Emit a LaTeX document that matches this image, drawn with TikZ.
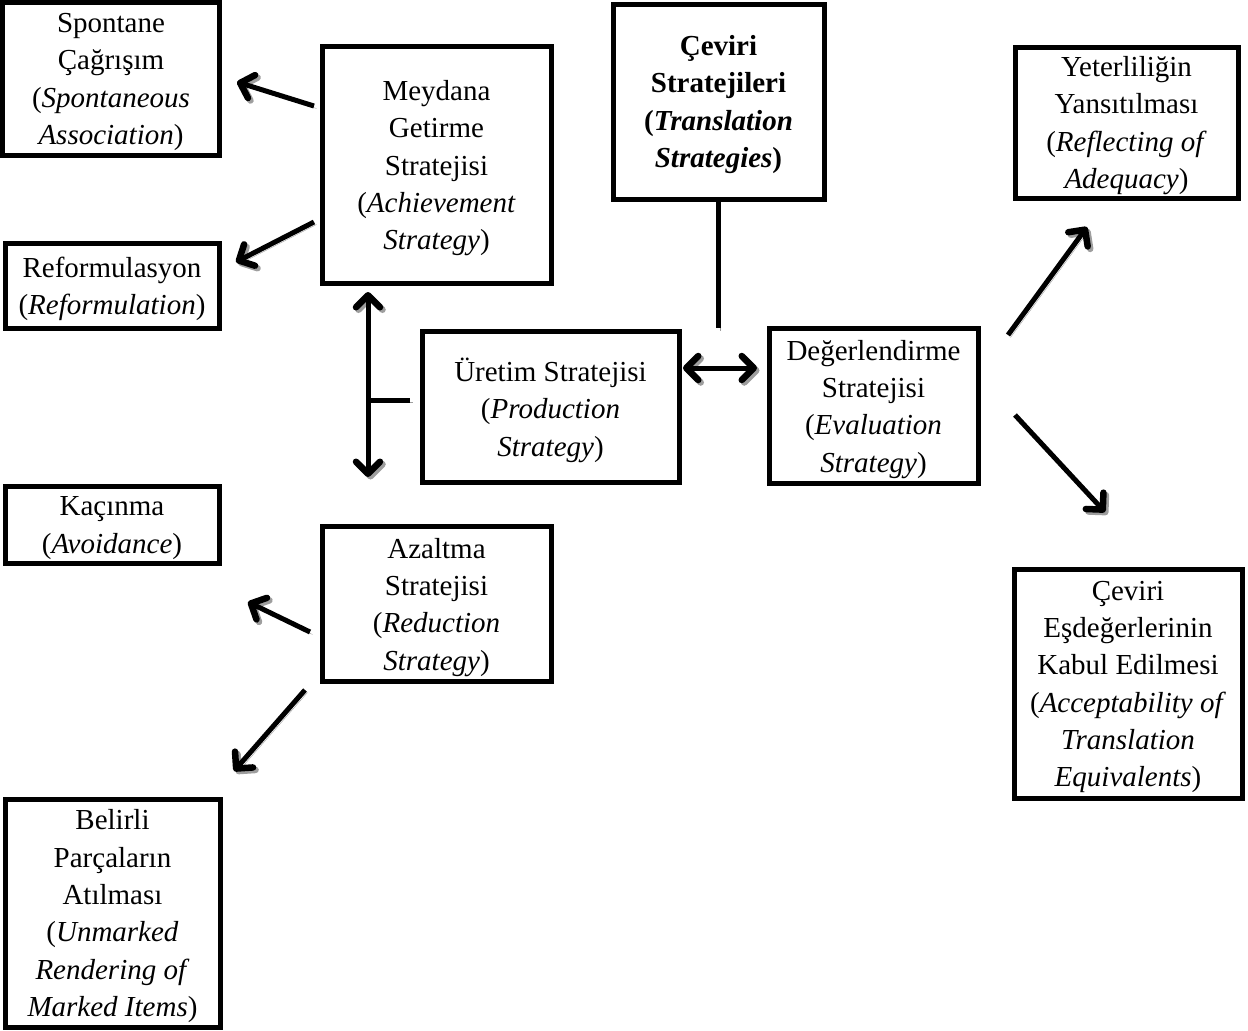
\documentclass[tikz,border=0pt]{standalone}
\usepackage{fontspec}
\setmainfont{Liberation Serif}
\usetikzlibrary{arrows.meta}
\begin{document}
\begin{tikzpicture}[x=1pt,y=-1pt,
  box/.style={draw, line width=5pt, rectangle, align=center, inner sep=0pt,
    text depth=0pt, font=\fontsize{29}{37.3}\selectfont},
  shadowed/.style={preaction={draw=black!38, transform canvas={xshift=2.5pt,yshift=-2.5pt}}},
  barb/.tip={Straight Barb[length=12pt,width=24pt,round,line width=6.5pt]},
  tipend/.style={-barb},
  bothtips/.style={barb-barb},
  conn/.style={line width=5pt, shadowed}
]
\useasboundingbox (0,0) rectangle (1248,1031);

% strategy boxes
\node[box, minimum width=217pt, minimum height=153pt] (sp) at (111,79)
  {Spontane\\Çağrışım\\(\textit{Spontaneous}\\\textit{Association})};
\node[box, minimum width=229pt, minimum height=237pt] (mg) at (436.5,165)
  {Meydana\\Getirme\\Stratejisi\\(\textit{Achievement}\\\textit{Strategy})};
\node[box, minimum width=211pt, minimum height=195pt] (cs) at (718.5,101.5)
  {\textbf{Çeviri}\\\textbf{Stratejileri}\\\textbf{(\textit{Translation}}\\\textbf{\textit{Strategies})}};
\node[box, minimum width=223pt, minimum height=151pt] (yy) at (1126.5,122.5)
  {Yeterliliğin\\Yansıtılması\\(\textit{Reflecting of}\\\textit{Adequacy})};
\node[box, minimum width=214pt, minimum height=85pt] (rf) at (112,286)
  {Reformulasyon\\(\textit{Reformulation})};
\node[box, minimum width=257pt, minimum height=151pt] (ur) at (550.5,407)
  {Üretim Stratejisi\\(\textit{Production}\\\textit{Strategy})};
\node[box, minimum width=209pt, minimum height=155pt] (dg) at (873.5,406)
  {Değerlendirme\\Stratejisi\\(\textit{Evaluation}\\\textit{Strategy})};
\node[box, minimum width=214pt, minimum height=77pt] (kc) at (112,525)
  {Kaçınma\\(\textit{Avoidance})};
\node[box, minimum width=229pt, minimum height=155pt] (az) at (436.5,604)
  {Azaltma\\Stratejisi\\(\textit{Reduction}\\\textit{Strategy})};
\node[box, minimum width=228pt, minimum height=229pt] (ce) at (1128,684)
  {Çeviri\\Eşdeğerlerinin\\Kabul Edilmesi\\(\textit{Acceptability of}\\\textit{Translation}\\\textit{Equivalents})};
\node[box, minimum width=215pt, minimum height=228pt] (bp) at (112.5,913)
  {Belirli\\Parçaların\\Atılması\\(\textit{Unmarked}\\\textit{Rendering of}\\\textit{Marked Items})};

% free ends of the connectors
\coordinate (mgA) at (314,106);  \coordinate (spA) at (237,82);
\coordinate (mgB) at (314,222);  \coordinate (rfB) at (236,262);
\coordinate (vTop) at (368,292); \coordinate (vBot) at (368,477);
\coordinate (vMid) at (368,400); \coordinate (urL) at (410,400);
\coordinate (csB) at (718,200);  \coordinate (csE) at (718,328);
\coordinate (urR) at (683,368);  \coordinate (dgL) at (757,368);
\coordinate (dgA) at (1008,335); \coordinate (yyA) at (1087,227);
\coordinate (dgB) at (1015,415); \coordinate (ceB) at (1105,512);
\coordinate (azA) at (310,632);  \coordinate (kcA) at (248,602);
\coordinate (azB) at (305,690);  \coordinate (bpB) at (234,771);

% connectors
\draw[conn, tipend] (mgA) -- (spA);
\draw[conn, tipend] (mgB) -- (rfB);
\draw[conn, bothtips] (vTop) -- (vBot);
\draw[conn] (vMid) -- (urL);
\draw[conn] (csB) -- (csE);
\draw[conn, bothtips] (urR) -- (dgL);
\draw[conn, tipend] (dgA) -- (yyA);
\draw[conn, tipend] (dgB) -- (ceB);
\draw[conn, tipend] (azA) -- (kcA);
\draw[conn, tipend] (azB) -- (bpB);
\end{tikzpicture}
\end{document}
